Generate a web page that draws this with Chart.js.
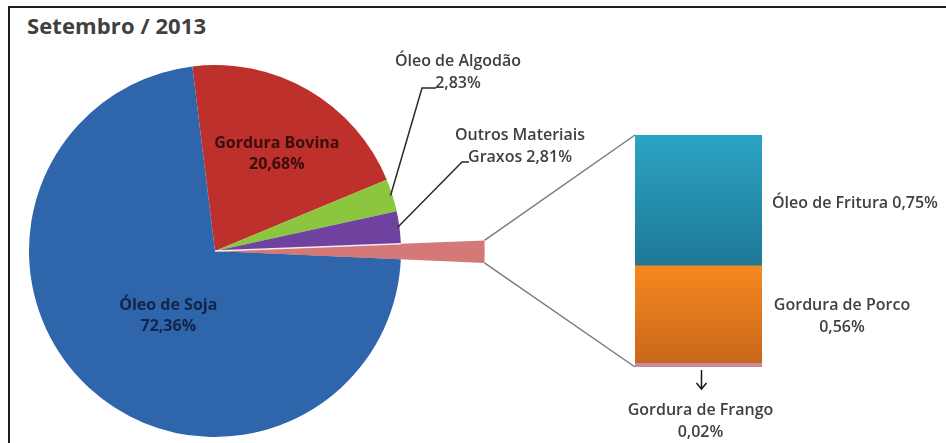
<!DOCTYPE html>
<html>
<head>
<meta charset="utf-8">
<script src="https://cdn.jsdelivr.net/npm/chart.js@4.4.0/dist/chart.umd.min.js"></script>
<style>
html, body { margin: 0; padding: 0; background: #fff; }
#wrap { position: relative; width: 946px; height: 443px; overflow: hidden; background: #fff; }
#frame { position: absolute; left: 8px; top: 6px; right: -4px; bottom: -4px; border-top: 2px solid #1e1e1e; border-left: 2px solid #1e1e1e; }
#title { position: absolute; left: 27px; top: 10px; font: bold 22px "Open Sans", sans-serif; color: #404040; letter-spacing: 0.1px; }
canvas { position: absolute; left: 0; top: 0; }
</style>
</head>
<body>
<div id="wrap">
  <div id="frame"></div>
  <div id="title">Setembro / 2013</div>
  <canvas id="pie" width="946" height="443"></canvas>
  <canvas id="bar" width="946" height="443"></canvas>
</div>
<script>
// pie: clockwise from the top
const pieLabels = ['Gordura Bovina', 'Óleo de Algodão', 'Outros Materiais Graxos', 'Outros', 'Óleo de Soja'];
// bar: bottom to top
const barLabels = ['Gordura de Frango', 'Gordura de Porco', 'Óleo de Fritura'];
const barValues = [0.02, 0.56, 0.75];
const otherTotal = barValues.reduce((a, b) => a + b, 0);
const pieValues = [20.68, 2.83, 2.81, otherTotal, 72.36];

const pieColors = ['#be302c', '#8cc63f', '#7042a0', '#d57878', '#2f65ab'];
const barTop = ['#c98aa2', '#f6881f', '#2ba4c3'];
const barBottom = ['#c98aa2', '#c8671c', '#1f7896'];

const FONT = '"Open Sans", sans-serif';
const TEXT = '#404040';
const LABEL_FONT = '600 16px ' + FONT;

function fmt(v) {
  return v.toFixed(2).replace('.', ',') + '%';
}

function arcPoint(arc, angle, r) {
  return [arc.x + Math.cos(angle) * r, arc.y + Math.sin(angle) * r];
}

function drawLines(ctx, lines, x, y, gap, align) {
  ctx.textAlign = align || 'center';
  ctx.textBaseline = 'middle';
  lines.forEach((t, k) => ctx.fillText(t, x, y + k * gap));
}

const pieDecor = {
  id: 'pieDecor',
  afterDatasetsDraw(chart) {
    const ctx = chart.ctx;
    const arcs = chart.getDatasetMeta(0).data;
    const p = arcs[3];
    const ext = p.outerRadius * 1.45;

    ctx.save();
    // the "Outros" slice pulled out towards the bar
    ctx.beginPath();
    ctx.moveTo(p.x, p.y);
    ctx.arc(p.x, p.y, ext, p.startAngle, p.endAngle);
    ctx.closePath();
    ctx.fillStyle = pieColors[3];
    ctx.fill();
    ctx.beginPath();
    ctx.moveTo(p.x, p.y);
    ctx.lineTo(...arcPoint(p, p.startAngle, p.outerRadius));
    ctx.strokeStyle = 'rgba(255,255,255,0.85)';
    ctx.lineWidth = 1.5;
    ctx.stroke();

    // labels inside slices
    ctx.font = 'bold 16px ' + FONT;
    [[0, 0.66, -1, '#3a0d0c'], [4, 0.37, 4, '#13244a']].forEach(([i, rf, dy, col]) => {
      const a = arcs[i];
      const mid = (a.startAngle + a.endAngle) / 2;
      const [x, y] = arcPoint(a, mid, a.outerRadius * rf);
      ctx.fillStyle = col;
      drawLines(ctx, [pieLabels[i], fmt(pieValues[i])], x, y + dy, 21);
    });

    // labels outside with leader lines
    const outside = [
      { i: 1, elbow: [422, 88], end: [436, 88], at: [458, 61],
        lines: [pieLabels[1], fmt(pieValues[1])] },
      { i: 2, elbow: [462, 162], end: [469, 162], at: [520, 135],
        lines: ['Outros Materiais', 'Graxos ' + fmt(pieValues[2])] }
    ];
    outside.forEach(o => {
      const a = arcs[o.i];
      const mid = (a.startAngle + a.endAngle) / 2;
      const [sx, sy] = arcPoint(a, mid, a.outerRadius - 2);
      ctx.beginPath();
      ctx.moveTo(sx, sy);
      ctx.lineTo(o.elbow[0], o.elbow[1]);
      ctx.lineTo(o.end[0], o.end[1]);
      ctx.strokeStyle = '#2a2a2a';
      ctx.lineWidth = 1.5;
      ctx.stroke();
      ctx.fillStyle = TEXT;
      ctx.font = LABEL_FONT;
      drawLines(ctx, o.lines, o.at[0], o.at[1], 22);
    });
    ctx.restore();
  }
};

const pieChart = new Chart(document.getElementById('pie'), {
  type: 'pie',
  data: {
    labels: pieLabels,
    datasets: [{ data: pieValues, backgroundColor: pieColors, borderWidth: 0 }]
  },
  options: {
    responsive: false,
    animation: false,
    rotation: -7,
    layout: { padding: { left: 29, right: 545, top: 65, bottom: 6 } },
    plugins: { legend: { display: false }, tooltip: { enabled: false } }
  },
  plugins: [pieDecor]
});

function shade(k) {
  return (c) => {
    const chart = c.chart;
    const ys = chart.scales.y;
    if (!ys || !chart.chartArea) return barTop[k];
    const lo = barValues.slice(0, k).reduce((a, b) => a + b, 0);
    const y0 = ys.getPixelForValue(lo + barValues[k]);
    const y1 = ys.getPixelForValue(lo);
    if (!isFinite(y0) || !isFinite(y1) || y0 === y1) return barTop[k];
    const g = chart.ctx.createLinearGradient(0, y0, 0, y1);
    g.addColorStop(0, barTop[k]);
    g.addColorStop(1, barBottom[k]);
    return g;
  };
}

const barDecor = {
  id: 'barDecor',
  afterDatasetsDraw(chart) {
    const ctx = chart.ctx;
    const bars = chart.data.datasets.map((d, k) => chart.getDatasetMeta(k).data[0]);
    const bottom = bars[0], top = bars[bars.length - 1];
    const left = top.x - top.width / 2;
    const right = top.x + top.width / 2;

    // connectors from the pulled slice to the bar
    const p = pieChart.getDatasetMeta(0).data[3];
    const ext = p.outerRadius * 1.45;
    const t1 = arcPoint(p, p.startAngle, ext);
    const t2 = arcPoint(p, p.endAngle, ext);
    ctx.save();
    ctx.strokeStyle = '#7b7b7b';
    ctx.lineWidth = 1.5;
    ctx.beginPath();
    ctx.moveTo(t1[0], t1[1]);
    ctx.lineTo(left, top.y);
    ctx.moveTo(t2[0], t2[1]);
    ctx.lineTo(left, bottom.base);
    ctx.stroke();

    ctx.fillStyle = TEXT;
    ctx.font = LABEL_FONT;
    // Óleo de Fritura
    drawLines(ctx, [barLabels[2] + ' ' + fmt(barValues[2])], right + 10, (top.y + top.base) / 2 + 3, 0, 'left');
    // Gordura de Porco
    const b1 = bars[1];
    drawLines(ctx, [barLabels[1], fmt(barValues[1])], right + 80, (b1.y + b1.base) / 2 - 9, 22);
    // Gordura de Frango with arrow
    const ax = bottom.x + 3;
    const ay = bottom.base + 3;
    ctx.strokeStyle = '#1a1a1a';
    ctx.lineWidth = 1.5;
    ctx.beginPath();
    ctx.moveTo(ax, ay);
    ctx.lineTo(ax, ay + 19);
    ctx.moveTo(ax - 5, ay + 13);
    ctx.lineTo(ax, ay + 19);
    ctx.lineTo(ax + 5, ay + 13);
    ctx.stroke();
    drawLines(ctx, [barLabels[0], fmt(barValues[0])], bottom.x + 2, bottom.base + 43, 22);
    ctx.restore();
  }
};

new Chart(document.getElementById('bar'), {
  type: 'bar',
  data: {
    labels: ['Outros'],
    datasets: barLabels.map((name, k) => ({
      label: name,
      data: [barValues[k]],
      backgroundColor: shade(k),
      borderWidth: 0,
      barPercentage: 1,
      categoryPercentage: 1
    }))
  },
  options: {
    responsive: false,
    animation: false,
    layout: { padding: { left: 635, right: 184, top: 135, bottom: 76 } },
    scales: {
      x: { display: false, stacked: true },
      y: { display: false, stacked: true, min: 0, max: otherTotal }
    },
    plugins: { legend: { display: false }, tooltip: { enabled: false } }
  },
  plugins: [barDecor]
});
</script>
</body>
</html>
